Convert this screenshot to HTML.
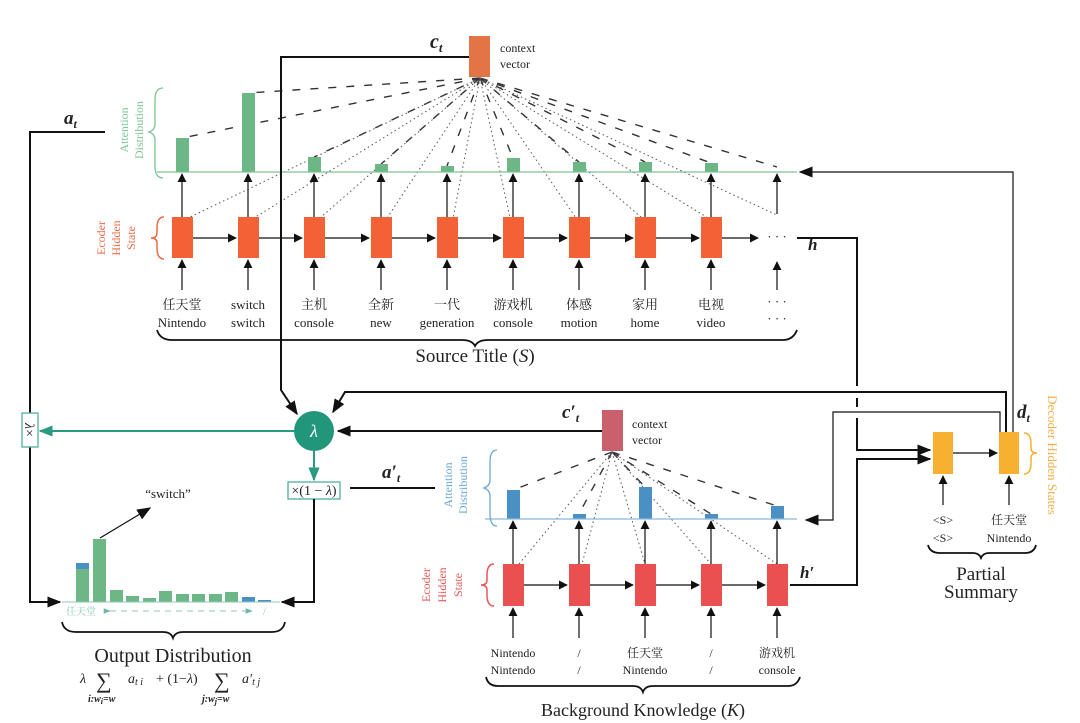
<!DOCTYPE html>
<html><head><meta charset="utf-8"><style>
html,body{margin:0;padding:0;background:#fff}
svg{display:block}
text{font-family:"Liberation Serif","Noto Serif CJK SC",serif;fill:#222}
.cj{font-family:"Liberation Serif","Noto Serif CJK SC",serif}
</style></head><body>
<svg width="1080" height="723" viewBox="0 0 1080 723" xmlns="http://www.w3.org/2000/svg">
<defs>
<marker id="a" viewBox="0 0 10 10" refX="9" refY="5" markerWidth="9" markerHeight="9" markerUnits="userSpaceOnUse" orient="auto"><path d="M0,0L10,5L0,10z" fill="#111"/></marker>
<marker id="A" viewBox="0 0 10 10" refX="9" refY="5" markerWidth="14" markerHeight="14" markerUnits="userSpaceOnUse" orient="auto"><path d="M0,1L10,5L0,9z" fill="#111"/></marker>
<marker id="t" viewBox="0 0 10 10" refX="9" refY="5" markerWidth="14" markerHeight="14" markerUnits="userSpaceOnUse" orient="auto"><path d="M0,1L10,5L0,9z" fill="#2a9a80"/></marker>
<marker id="ts" viewBox="0 0 10 10" refX="9" refY="5" markerWidth="7" markerHeight="7" markerUnits="userSpaceOnUse" orient="auto"><path d="M0,1L10,5L0,9z" fill="#6bb8a8"/></marker>
</defs>

<!-- ===== TOP: attention lines ===== -->
<g stroke="#333" stroke-width="1.4" stroke-dasharray="8,10" fill="none">
<line x1="480" y1="78" x2="182" y2="138"/><line x1="480" y1="78" x2="248" y2="93"/>
<line x1="480" y1="78" x2="314" y2="157"/><line x1="480" y1="78" x2="381" y2="164"/>
<line x1="480" y1="78" x2="447" y2="166"/><line x1="480" y1="78" x2="513" y2="158"/>
<line x1="480" y1="78" x2="579" y2="162"/><line x1="480" y1="78" x2="645" y2="162"/>
<line x1="480" y1="78" x2="711" y2="163"/><line x1="480" y1="78" x2="777" y2="167"/>
</g>
<g stroke="#555" stroke-width="1" stroke-dasharray="1.5,3" fill="none">
<line x1="480" y1="78" x2="188" y2="218"/><line x1="480" y1="78" x2="254" y2="218"/>
<line x1="480" y1="78" x2="320" y2="218"/><line x1="480" y1="78" x2="387" y2="218"/>
<line x1="480" y1="78" x2="453" y2="218"/><line x1="480" y1="78" x2="510" y2="218"/>
<line x1="480" y1="78" x2="576" y2="218"/><line x1="480" y1="78" x2="642" y2="218"/>
<line x1="480" y1="78" x2="708" y2="218"/><line x1="480" y1="78" x2="777" y2="215"/>
</g>
<rect x="469" y="36" width="21" height="41" fill="#e37446"/>
<text x="500" y="52" font-size="12">context</text>
<text x="500" y="68" font-size="12">vector</text>
<text x="430" y="48" font-size="20" font-weight="bold" font-style="italic">c<tspan font-size="13" dy="4">t</tspan></text>

<g fill="#6db786">
<rect x="176" y="138" width="13" height="34"/><rect x="242" y="93" width="13" height="79"/>
<rect x="308" y="157" width="13" height="15"/><rect x="375" y="164" width="13" height="8"/>
<rect x="441" y="166" width="13" height="6"/><rect x="507" y="158" width="13" height="14"/>
<rect x="573" y="162" width="13" height="10"/><rect x="639" y="162" width="13" height="10"/>
<rect x="705" y="163" width="13" height="9"/>
</g>
<line x1="157" y1="172" x2="797" y2="172" stroke="#7cc495" stroke-width="1.3"/>
<text font-size="12" transform="translate(128,130) rotate(-90)" text-anchor="middle" style="fill:#7cc495">Attention</text>
<text font-size="12" transform="translate(143,130) rotate(-90)" text-anchor="middle" style="fill:#7cc495">Distribution</text>
<path d="M163,88 Q155,88 155,100 L155,124 Q155,130 149,132 Q155,134 155,140 L155,166 Q155,178 163,178" fill="none" stroke="#7cc495" stroke-width="1.3"/>

<text font-size="12" transform="translate(105,238) rotate(-90)" text-anchor="middle" style="fill:#ee6b45">Ecoder</text>
<text font-size="12" transform="translate(120,238) rotate(-90)" text-anchor="middle" style="fill:#ee6b45">Hidden</text>
<text font-size="12" transform="translate(135,238) rotate(-90)" text-anchor="middle" style="fill:#ee6b45">State</text>
<path d="M164,217 Q157,217 157,228 L157,233 Q157,238 151,238 Q157,238 157,243 L157,248 Q157,259 164,259" fill="none" stroke="#ee6b45" stroke-width="1.5"/>
<g fill="#f26236">
<rect x="172" y="217" width="21" height="41"/><rect x="238" y="217" width="21" height="41"/>
<rect x="304" y="217" width="21" height="41"/><rect x="371" y="217" width="21" height="41"/>
<rect x="437" y="217" width="21" height="41"/><rect x="503" y="217" width="21" height="41"/>
<rect x="569" y="217" width="21" height="41"/><rect x="635" y="217" width="21" height="41"/>
<rect x="701" y="217" width="21" height="41"/>
</g>
<g stroke="#111" stroke-width="1.2" marker-end="url(#a)">
<line x1="182" y1="217" x2="182" y2="174"/><line x1="248" y1="217" x2="248" y2="174"/>
<line x1="314" y1="217" x2="314" y2="174"/><line x1="381" y1="217" x2="381" y2="174"/>
<line x1="447" y1="217" x2="447" y2="174"/><line x1="513" y1="217" x2="513" y2="174"/>
<line x1="579" y1="217" x2="579" y2="174"/><line x1="645" y1="217" x2="645" y2="174"/>
<line x1="711" y1="217" x2="711" y2="174"/><line x1="777" y1="214" x2="777" y2="174"/>
<line x1="182" y1="290" x2="182" y2="260"/><line x1="248" y1="290" x2="248" y2="260"/>
<line x1="314" y1="290" x2="314" y2="260"/><line x1="381" y1="290" x2="381" y2="260"/>
<line x1="447" y1="290" x2="447" y2="260"/><line x1="513" y1="290" x2="513" y2="260"/>
<line x1="579" y1="290" x2="579" y2="260"/><line x1="645" y1="290" x2="645" y2="260"/>
<line x1="711" y1="290" x2="711" y2="260"/><line x1="777" y1="290" x2="777" y2="262"/>
<line x1="193" y1="238" x2="236" y2="238"/><line x1="259" y1="238" x2="302" y2="238"/>
<line x1="325" y1="238" x2="369" y2="238"/><line x1="392" y1="238" x2="435" y2="238"/>
<line x1="458" y1="238" x2="501" y2="238"/><line x1="524" y1="238" x2="567" y2="238"/>
<line x1="590" y1="238" x2="633" y2="238"/><line x1="656" y1="238" x2="699" y2="238"/>
<line x1="722" y1="238" x2="758" y2="238"/>
</g>
<text x="777" y="241" font-size="13" text-anchor="middle">· · ·</text>
<text x="808" y="250" font-size="17" font-weight="bold" font-style="italic">h</text>
<g font-size="13" text-anchor="middle">
<text class="cj" x="182" y="309">任天堂</text><text x="182" y="327">Nintendo</text>
<text x="248" y="309">switch</text><text x="248" y="327">switch</text>
<text class="cj" x="314" y="309">主机</text><text x="314" y="327">console</text>
<text class="cj" x="381" y="309">全新</text><text x="381" y="327">new</text>
<text class="cj" x="447" y="309">一代</text><text x="447" y="327">generation</text>
<text class="cj" x="513" y="309">游戏机</text><text x="513" y="327">console</text>
<text class="cj" x="579" y="309">体感</text><text x="579" y="327">motion</text>
<text class="cj" x="645" y="309">家用</text><text x="645" y="327">home</text>
<text class="cj" x="711" y="309">电视</text><text x="711" y="327">video</text>
<text x="777" y="306">· · ·</text><text x="777" y="323">· · ·</text>
</g>
<path d="M157,330 Q160,340 172,340 L462,340 Q472,340 475,346 Q478,340 488,340 L783,340 Q793,340 797,330" fill="none" stroke="#111" stroke-width="1.8"/>
<text x="475" y="362" font-size="19" text-anchor="middle">Source Title (<tspan font-style="italic">S</tspan>)</text>

<!-- ===== connectors ===== -->
<polyline points="469,57 281,57 281,390 297,414" fill="none" stroke="#111" stroke-width="2" marker-end="url(#A)"/>
<polyline points="105,132 30,132 30,413" fill="none" stroke="#111" stroke-width="2"/>
<polyline points="30,447 30,602 60,602" fill="none" stroke="#111" stroke-width="2" marker-end="url(#A)"/>
<text x="64" y="124" font-size="19" font-weight="bold" font-style="italic">a<tspan font-size="12" dy="4">t</tspan></text>
<polyline points="1006,432 1006,392 345,392 333,412" fill="none" stroke="#111" stroke-width="2" marker-end="url(#A)"/>
<polyline points="1013,432 1013,172 800,172" fill="none" stroke="#111" stroke-width="1.2" marker-end="url(#A)"/>
<polyline points="1000,432 1000,412 833,412 833,520 806,520" fill="none" stroke="#111" stroke-width="1.2" marker-end="url(#A)"/>
<polyline points="797,238 857,238 857,386" fill="none" stroke="#111" stroke-width="2"/>
<polyline points="857,398 857,407" fill="none" stroke="#111" stroke-width="2"/>
<polyline points="857,418 857,450 930,450" fill="none" stroke="#111" stroke-width="2" marker-end="url(#A)"/>
<polyline points="790,585 857,585 857,459 930,459" fill="none" stroke="#111" stroke-width="2" marker-end="url(#A)"/>
<line x1="602" y1="431" x2="338" y2="431" stroke="#111" stroke-width="2" marker-end="url(#A)"/>

<circle cx="314" cy="431" r="20" fill="#21967a"/>
<text x="314" y="437" font-size="18" font-style="italic" text-anchor="middle" style="fill:#fff">λ</text>
<line x1="294" y1="431" x2="40" y2="431" stroke="#2a9a80" stroke-width="2" marker-end="url(#t)"/>
<rect x="22" y="413" width="16" height="34" fill="#fff" stroke="#4fb09c" stroke-width="1.3"/>
<text font-size="14" transform="translate(25,430) rotate(90)" text-anchor="middle"><tspan font-style="italic">λ</tspan>×</text>
<line x1="314" y1="451" x2="314" y2="480" stroke="#2a9a80" stroke-width="2" marker-end="url(#t)"/>
<rect x="288" y="482" width="52" height="17" fill="#fff" stroke="#4fb09c" stroke-width="1.3"/>
<text x="314" y="495" font-size="14" text-anchor="middle">×(1 − <tspan font-style="italic">λ</tspan>)</text>
<polyline points="314,499 314,602 282,602" fill="none" stroke="#111" stroke-width="2" marker-end="url(#A)"/>
<line x1="350" y1="488" x2="435" y2="488" stroke="#111" stroke-width="2"/>
<text x="382" y="478" font-size="19" font-weight="bold" font-style="italic">a′<tspan font-size="12" dy="4">t</tspan></text>

<g fill="#6db786">
<rect x="76" y="563" width="13" height="39"/><rect x="93" y="539" width="13" height="63"/>
<rect x="110" y="590" width="13" height="12"/><rect x="126" y="596" width="13" height="6"/>
<rect x="143" y="598" width="13" height="4"/><rect x="159" y="591" width="13" height="11"/>
<rect x="176" y="594" width="13" height="8"/><rect x="192" y="594" width="13" height="8"/>
<rect x="209" y="594" width="13" height="8"/><rect x="225" y="592" width="13" height="10"/>
</g>
<g fill="#4a90c4">
<rect x="76" y="563" width="13" height="6"/><rect x="242" y="597" width="13" height="5"/>
<rect x="258" y="600" width="13" height="2"/>
</g>
<line x1="62" y1="602" x2="280" y2="602" stroke="#8cc8b8" stroke-width="1"/>
<line x1="100" y1="538" x2="150" y2="508" stroke="#111" stroke-width="1.2" marker-end="url(#A)"/>
<text x="168" y="498" font-size="13" text-anchor="middle">“switch”</text>
<text class="cj" x="66" y="615" font-size="10" style="fill:#8cc8b8">任天堂</text>
<line x1="110" y1="611" x2="252" y2="611" stroke="#8cc8b8" stroke-width="1" stroke-dasharray="6,5" marker-start="url(#ts)" marker-end="url(#ts)"/>
<text x="263" y="615" font-size="10" style="fill:#8cc8b8">/</text>
<path d="M62,622 Q64,632 76,632 L163,632 Q171,632 173,638 Q175,632 183,632 L272,632 Q283,632 285,622" fill="none" stroke="#111" stroke-width="1.8"/>
<text x="173" y="662" font-size="20" text-anchor="middle">Output Distribution</text>
<g font-size="14" font-style="italic">
<text x="80" y="683">λ</text>
<text x="96" y="688" font-size="22" font-style="normal">∑</text>
<text x="128" y="683">a<tspan font-size="10" dy="2">t i</tspan></text>
<text x="156" y="683" font-style="normal">+ (1−<tspan font-style="italic">λ</tspan>)</text>
<text x="214" y="688" font-size="22" font-style="normal">∑</text>
<text x="242" y="683">a′<tspan font-size="10" dy="2">t j</tspan></text>
<text x="88" y="702" font-size="10" font-weight="bold">i:w<tspan font-size="8" dy="2">i</tspan><tspan dy="-2">=w</tspan></text>
<text x="202" y="702" font-size="10" font-weight="bold">j:w<tspan font-size="8" dy="2">j</tspan><tspan dy="-2">=w</tspan></text>
</g>

<!-- ===== BOTTOM encoder ===== -->
<g stroke="#333" stroke-width="1.4" stroke-dasharray="8,10" fill="none">
<line x1="612" y1="452" x2="513" y2="490"/><line x1="612" y1="452" x2="579" y2="514"/>
<line x1="612" y1="452" x2="645" y2="487"/><line x1="612" y1="452" x2="711" y2="514"/>
<line x1="612" y1="452" x2="777" y2="506"/>
</g>
<g stroke="#555" stroke-width="1" stroke-dasharray="1.5,3" fill="none">
<line x1="612" y1="452" x2="519" y2="564"/><line x1="612" y1="452" x2="582" y2="564"/>
<line x1="612" y1="452" x2="645" y2="564"/><line x1="612" y1="452" x2="711" y2="564"/>
<line x1="612" y1="452" x2="777" y2="564"/>
</g>
<rect x="602" y="410" width="21" height="41" fill="#c9606c"/>
<text x="632" y="428" font-size="12">context</text>
<text x="632" y="444" font-size="12">vector</text>
<text x="562" y="418" font-size="19" font-weight="bold" font-style="italic">c′<tspan font-size="12" dy="4">t</tspan></text>

<g fill="#4a90c4">
<rect x="507" y="490" width="13" height="29"/><rect x="573" y="514" width="13" height="5"/>
<rect x="639" y="487" width="13" height="32"/><rect x="705" y="514" width="13" height="5"/>
<rect x="771" y="506" width="13" height="13"/>
</g>
<line x1="485" y1="519" x2="797" y2="519" stroke="#8ab8dc" stroke-width="1.3"/>
<text font-size="12" transform="translate(452,485) rotate(-90)" text-anchor="middle" style="fill:#6aa8d4">Attention</text>
<text font-size="12" transform="translate(467,485) rotate(-90)" text-anchor="middle" style="fill:#6aa8d4">Distribution</text>
<path d="M497,450 Q490,450 490,462 L490,480 Q490,486 484,488 Q490,490 490,496 L490,514 Q490,526 497,526" fill="none" stroke="#6aa8d4" stroke-width="1.3"/>

<text font-size="12" transform="translate(430,585) rotate(-90)" text-anchor="middle" style="fill:#ec5656">Ecoder</text>
<text font-size="12" transform="translate(446,585) rotate(-90)" text-anchor="middle" style="fill:#ec5656">Hidden</text>
<text font-size="12" transform="translate(462,585) rotate(-90)" text-anchor="middle" style="fill:#ec5656">State</text>
<path d="M494,564 Q487,564 487,575 L487,580 Q487,585 481,585 Q487,585 487,590 L487,595 Q487,606 494,606" fill="none" stroke="#ec5656" stroke-width="1.5"/>
<g fill="#ea5050">
<rect x="503" y="564" width="21" height="42"/><rect x="569" y="564" width="21" height="42"/>
<rect x="635" y="564" width="21" height="42"/><rect x="701" y="564" width="21" height="42"/>
<rect x="767" y="564" width="21" height="42"/>
</g>
<g stroke="#111" stroke-width="1.2" marker-end="url(#a)">
<line x1="513" y1="564" x2="513" y2="521"/><line x1="579" y1="564" x2="579" y2="521"/>
<line x1="645" y1="564" x2="645" y2="521"/><line x1="711" y1="564" x2="711" y2="521"/>
<line x1="777" y1="564" x2="777" y2="521"/>
<line x1="513" y1="638" x2="513" y2="608"/><line x1="579" y1="638" x2="579" y2="608"/>
<line x1="645" y1="638" x2="645" y2="608"/><line x1="711" y1="638" x2="711" y2="608"/>
<line x1="777" y1="638" x2="777" y2="608"/>
<line x1="524" y1="585" x2="567" y2="585"/><line x1="590" y1="585" x2="633" y2="585"/>
<line x1="656" y1="585" x2="699" y2="585"/><line x1="722" y1="585" x2="765" y2="585"/>
</g>
<text x="800" y="578" font-size="17" font-weight="bold" font-style="italic">h′</text>
<g font-size="12" text-anchor="middle">
<text x="513" y="657">Nintendo</text><text x="513" y="674">Nintendo</text>
<text x="579" y="657">/</text><text x="579" y="674">/</text>
<text class="cj" x="645" y="657">任天堂</text><text x="645" y="674">Nintendo</text>
<text x="711" y="657">/</text><text x="711" y="674">/</text>
<text class="cj" x="777" y="657">游戏机</text><text x="777" y="674">console</text>
</g>
<path d="M486,677 Q488,686 498,686 L633,686 Q641,686 643,692 Q645,686 653,686 L788,686 Q797,686 800,677" fill="none" stroke="#111" stroke-width="1.8"/>
<text x="643" y="716" font-size="18" text-anchor="middle">Background Knowledge (<tspan font-style="italic">K</tspan>)</text>

<!-- ===== decoder ===== -->
<rect x="933" y="432" width="20" height="42" fill="#f8b030"/>
<rect x="999" y="432" width="20" height="42" fill="#f8b030"/>
<line x1="953" y1="453" x2="997" y2="453" stroke="#111" stroke-width="1.2" marker-end="url(#a)"/>
<line x1="943" y1="505" x2="943" y2="476" stroke="#111" stroke-width="1.2" marker-end="url(#a)"/>
<line x1="1009" y1="505" x2="1009" y2="476" stroke="#111" stroke-width="1.2" marker-end="url(#a)"/>
<path d="M1024,433 Q1031,433 1031,444 L1031,448 Q1031,453 1037,453 Q1031,453 1031,458 L1031,463 Q1031,474 1024,474" fill="none" stroke="#f8b030" stroke-width="1.5"/>
<text font-size="13" transform="translate(1048,455) rotate(90)" text-anchor="middle" style="fill:#f5b04a">Decoder Hidden States</text>
<text x="1017" y="418" font-size="19" font-weight="bold" font-style="italic">d<tspan font-size="12" dy="4">t</tspan></text>
<g font-size="12" text-anchor="middle">
<text x="943" y="524">&lt;S&gt;</text><text x="943" y="542">&lt;S&gt;</text>
<text class="cj" x="1009" y="524">任天堂</text><text x="1009" y="542">Nintendo</text>
</g>
<path d="M928,545 Q930,553 940,553 L973,553 Q979,553 981,558 Q983,553 989,553 L1025,553 Q1034,553 1036,545" fill="none" stroke="#111" stroke-width="1.8"/>
<text x="981" y="580" font-size="19" text-anchor="middle">Partial</text>
<text x="981" y="598" font-size="19" text-anchor="middle">Summary</text>
</svg>
</body></html>
